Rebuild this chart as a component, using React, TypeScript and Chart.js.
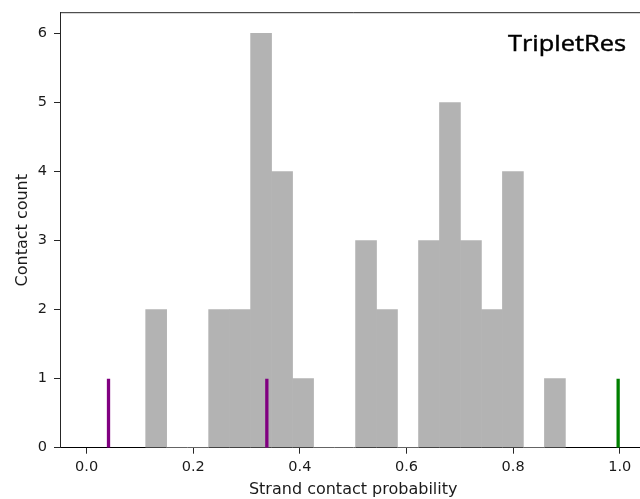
import React, { useEffect, useRef } from "react";
import { Chart, registerables } from "chart.js";

Chart.register(...registerables);

// Histogram bins (centres) and counts
const binCenters = [
  0.1304, 0.1698, 0.2091, 0.2485, 0.2879, 0.3272, 0.3666, 0.406, 0.4453, 0.4847,
  0.5241, 0.5634, 0.6028, 0.6422, 0.6815, 0.7209, 0.7603, 0.7996, 0.839, 0.8784,
];
const binCounts = [2, 0, 0, 2, 2, 6, 4, 1, 0, 0, 3, 2, 0, 3, 5, 3, 2, 4, 0, 1];

// Marker lines
const purpleMarks = [0.041, 0.338];
const greenMarks = [0.997];
const markHeight = 1;

// Axes
const xTickValues = [0, 0.2, 0.4, 0.6, 0.8, 1.0];
const yTickValues = [0, 1, 2, 3, 4, 5, 6];
const xMin = -0.05;
const xMax = 1.05;
const yMin = 0;
const yMax = 6.3;

const xLabel = "Strand contact probability";
const yLabel = "Contact count";
const annotation = "TripletRes";

const CANVAS_W = 700;
const CANVAS_H = 499;

export default function App() {
  const ref = useRef<HTMLCanvasElement>(null);

  useEffect(() => {
    const canvas = ref.current!;
    const spine = "#262626";
    const textColor = "#1a1a1a";

    const markDataset = (x: number, color: string) => ({
      type: "line" as const,
      data: [
        { x, y: 0 },
        { x, y: markHeight },
      ],
      borderColor: color,
      borderWidth: 3.3,
      borderCapStyle: "butt" as const,
      pointRadius: 0,
      fill: false,
      order: 0,
    });

    const decor = {
      id: "decor",
      afterDraw(chart: any) {
        const { ctx, chartArea: a } = chart;
        ctx.save();
        // top spine
        ctx.strokeStyle = spine;
        ctx.lineWidth = 1;
        ctx.beginPath();
        ctx.moveTo(a.left, a.top);
        ctx.lineTo(a.right, a.top);
        ctx.stroke();

        ctx.fillStyle = textColor;
        // x label
        ctx.font = "16px 'DejaVu Sans'";
        ctx.textAlign = "center";
        ctx.textBaseline = "alphabetic";
        ctx.fillText(xLabel, (a.left + a.right) / 2, 494.3);
        // y label
        ctx.save();
        ctx.translate(26.7, (a.top + a.bottom) / 2);
        ctx.rotate(-Math.PI / 2);
        ctx.fillText(yLabel, 0, 0);
        ctx.restore();
        // annotation
        ctx.fillStyle = "#000";
        ctx.strokeStyle = "#000";
        ctx.lineWidth = 0.45;
        ctx.font = "21px 'Open Sans'";
        ctx.textAlign = "left";
        const w = ctx.measureText(annotation).width;
        const sx = 118 / w;
        ctx.save();
        ctx.translate(508, 50.7);
        ctx.scale(sx, 1);
        ctx.fillText(annotation, 0, 0);
        ctx.strokeText(annotation, 0, 0);
        ctx.restore();
        ctx.restore();
      },
    };

    const chart = new Chart(canvas, {
      type: "bar",
      data: {
        datasets: [
          {
            type: "bar",
            data: binCenters.map((x, i) => ({ x, y: binCounts[i] })),
            backgroundColor: "#b3b3b3",
            borderWidth: 0,
            barPercentage: 1,
            categoryPercentage: 1,
            order: 10,
          } as any,
          ...purpleMarks.map((x) => markDataset(x, "#800080")),
          ...greenMarks.map((x) => markDataset(x, "#008000")),
        ],
      },
      options: {
        animation: false,
        responsive: false,
        maintainAspectRatio: false,
        devicePixelRatio: 1,
        layout: { autoPadding: false, padding: { top: 12.7, right: 53.6, left: 0, bottom: 0 } },
        plugins: {
          legend: { display: false },
          tooltip: { enabled: false },
        },
        scales: {
          x: {
            type: "linear",
            min: xMin,
            max: xMax,
            offset: false,
            afterBuildTicks: (s: any) => {
              s.ticks = xTickValues.map((v) => ({ value: v }));
            },
            afterFit: (s: any) => {
              s.height = 51.3;
              s.paddingLeft = 0;
              s.paddingRight = 0;
            },
            grid: {
              display: true,
              drawOnChartArea: false,
              drawTicks: true,
              tickLength: 6,
              tickColor: spine,
              offset: false,
            },
            border: { display: true, color: "#000", width: 1 },
            ticks: {
              padding: 4.5,
              color: textColor,
              font: { family: "'DejaVu Sans'", size: 14.5 },
              maxRotation: 0,
              autoSkip: false,
              callback: (v: any) => Number(v).toFixed(1),
            },
          },
          y: {
            type: "linear",
            min: yMin,
            max: yMax,
            afterBuildTicks: (s: any) => {
              s.ticks = yTickValues.map((v) => ({ value: v }));
            },
            afterFit: (s: any) => {
              s.width = 60;
              s.paddingTop = 0;
              s.paddingBottom = 0;
            },
            grid: {
              display: true,
              drawOnChartArea: false,
              drawTicks: true,
              tickLength: 6,
              tickColor: spine,
            },
            border: { display: true, color: spine, width: 1 },
            ticks: {
              padding: 7,
              color: textColor,
              font: { family: "'DejaVu Sans'", size: 14.5 },
              autoSkip: false,
              callback: (v: any) => String(v),
            },
          },
        },
      } as any,
      plugins: [decor],
    });

    return () => chart.destroy();
  }, []);

  return (
    <div
      style={{
        position: "fixed",
        left: 0,
        top: 0,
        width: 640,
        height: 499,
        overflow: "hidden",
        background: "#fff",
      }}
    >
      <canvas
        ref={ref}
        width={CANVAS_W}
        height={CANVAS_H}
        style={{ display: "block", width: CANVAS_W, height: CANVAS_H }}
      />
    </div>
  );
}
